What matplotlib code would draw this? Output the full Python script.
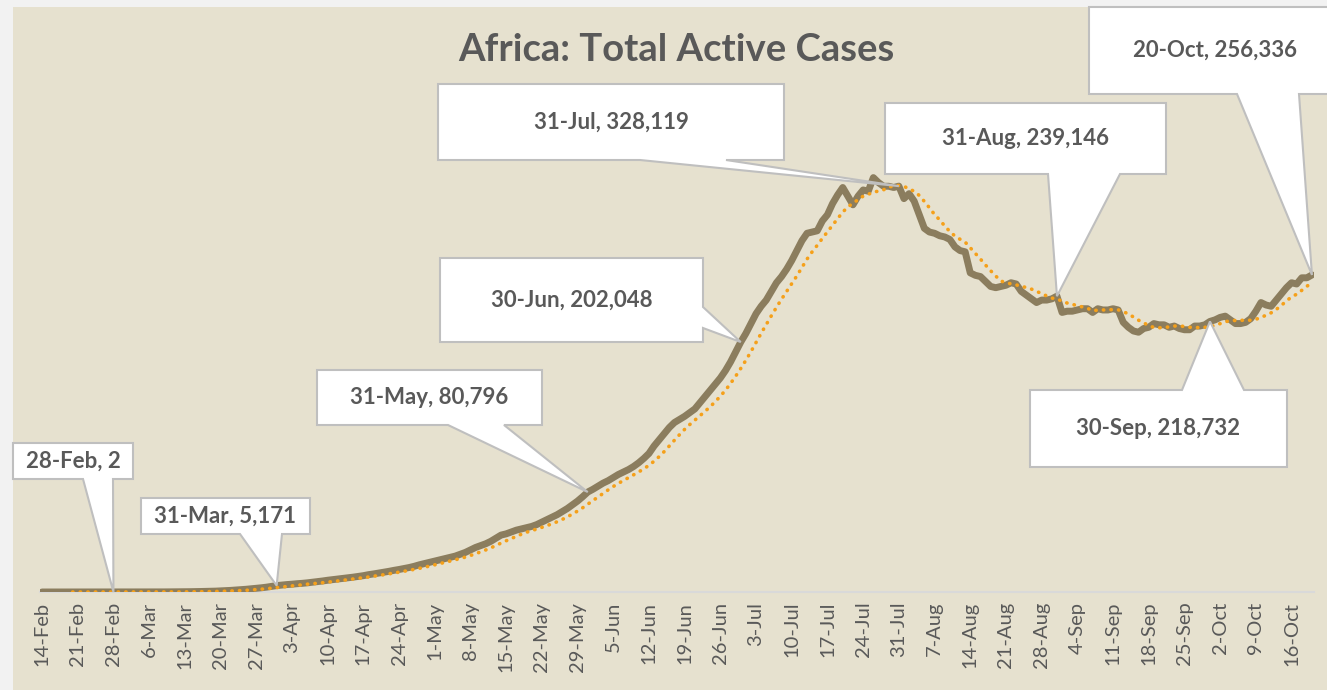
import numpy as np
import pandas as pd
import matplotlib
matplotlib.use("Agg")
import matplotlib.pyplot as plt
from matplotlib.patches import Polygon, Rectangle

plt.rcParams['font.family'] = ['Lato', 'DejaVu Sans']

# active cases, thousands, one value per day from 14-Feb to 20-Oct
feb = [0.001] * 14 + [0.002, 0.002]
mar = [0.003, 0.004, 0.006, 0.010, 0.020, 0.030, 0.040, 0.060, 0.080, 0.100,
       0.130, 0.160, 0.200, 0.250, 0.300, 0.400, 0.500, 0.600, 0.700, 0.900,
       1.10, 1.30, 1.60, 1.90, 2.20, 2.60, 3.00, 3.40, 3.90, 4.50, 5.171]
apr = [5.6, 6.0, 6.3, 6.7, 7.0, 7.4, 7.9, 8.4, 8.9, 9.5,
       10.0, 10.5, 11.0, 11.5, 12.0, 12.6, 13.2, 14.0, 14.6, 15.3,
       16.0, 16.7, 17.5, 18.2, 19.0, 19.8, 20.8, 22.0, 23.0, 24.0]
may = [25.0, 26.0, 27.0, 28.0, 29.0, 30.5, 32.0, 34.0, 36.0, 37.5,
       39.0, 41.0, 43.5, 46.0, 47.0, 48.5, 50.0, 51.0, 52.0, 53.0,
       54.5, 56.5, 58.5, 60.5, 62.5, 65.0, 67.5, 70.5, 73.5, 77.0, 80.796]
jun = [83.0, 85.5, 88.0, 90.0, 92.5, 95.0, 97.0, 99.0, 101.5, 104.5,
       108.0, 112.0, 118.0, 123.0, 128.0, 133.0, 137.0, 139.5, 142.0, 145.0,
       148.0, 153.0, 158.0, 163.0, 168.0, 173.0, 179.0, 186.0, 194.0, 202.048]
jul = [209.0, 217.0, 225.0, 231.0, 236.0, 243.0, 250.0, 255.0, 261.0, 268.0,
       276.0, 284.0, 290.0, 291.0, 292.0, 300.0, 305.0, 314.0, 321.0, 327.0,
       320.0, 313.0, 320.0, 325.0, 324.0, 335.0, 331.0, 328.0, 328.0, 327.0, 328.119]
aug = [318, 322, 316, 305, 294, 291, 290, 288, 287, 285,
       279, 276, 275, 258, 256, 255, 251, 247, 246, 247,
       248, 250, 249, 243, 240, 237, 234, 236, 236, 237, 239.146]
sep = [226, 227, 227, 228, 229, 229, 226, 229, 228, 228,
       229, 228, 218, 214, 211, 210, 213, 214, 217, 216,
       216, 214, 215, 213, 212, 212, 215, 215, 216, 218.732]
octo = [220, 222, 223, 220, 217, 217, 218, 221, 227, 234,
        232, 231, 236, 241, 246, 250, 249, 254, 254, 256.336]

dates = pd.date_range("2020-02-14", "2020-10-20", freq="D")
active = pd.Series(np.array(feb + mar + apr + may + jun + jul + aug + sep + octo) * 1000, index=dates)
trend = active.rolling(7).mean()

# callouts: date, label
callouts = [
    ("2020-02-28", "28-Feb, 2"),
    ("2020-03-31", "31-Mar, 5,171"),
    ("2020-05-31", "31-May, 80,796"),
    ("2020-06-30", "30-Jun, 202,048"),
    ("2020-07-31", "31-Jul, 328,119"),
    ("2020-08-31", "31-Aug, 239,146"),
    ("2020-09-30", "30-Sep, 218,732"),
    ("2020-10-20", "20-Oct, 256,336"),
]
# box (left, top, right, bottom) in pixels, side of the pointer and its base
boxes = [
    ((13, 443, 133, 479), "bottom", (83, 113)),
    ((141, 498, 310, 534), "bottom", (240, 282)),
    ((317, 370, 542, 425), "bottom", (448, 504)),
    ((440, 258, 703, 342), "right", (307, 328)),
    ((438, 84, 784, 160), "bottom", (640, 726)),
    ((885, 103, 1166, 174), "bottom", (1048, 1120)),
    ((1030, 390, 1287, 467), "top", (1182, 1244)),
    ((1089, 7, 1340, 94), "bottom", (1237, 1299)),
]
# x centre of the text where the box runs off the picture
text_x = {7: 1215}

W, H = 1327, 690
fig = plt.figure(figsize=(W / 100, H / 100), dpi=100, facecolor="#F2F2F2")
fig.patches.append(Rectangle((13 / W, 0), 1, 1 - 7 / H, transform=fig.transFigure,
                             facecolor="#E6E1CF", edgecolor="none", zorder=-1))

ax = fig.add_axes([40 / W, (H - 592) / H, (1314 - 40) / W, 494.8 / H])
ax.set_zorder(1)
ax.set_facecolor("none")
x = np.arange(len(active))
ax.plot(x, active.values, color="#8B7D5E", lw=5, solid_capstyle="round",
        solid_joinstyle="round", zorder=3)
ax.plot(x, trend.values, color="#F5A01A", lw=2.6, linestyle=(0, (0.1, 2.0)),
        dash_capstyle="round", zorder=4)
ax.set_xlim(-0.4, len(active) - 0.6)
ax.set_ylim(0, 400000)
for s in ["top", "right", "left"]:
    ax.spines[s].set_visible(False)
ax.spines["bottom"].set_color("#D9D9D9")
ax.spines["bottom"].set_linewidth(1.5)
ax.spines["bottom"].set_zorder(1)
ax.set_yticks([])
ticks = x[::7]
ax.set_xticks(ticks)
ax.set_xticklabels([f"{d.day}-{d:%b}" for d in dates[::7]], rotation=90,
                   fontsize=14.5, color="#595959", va="top")
ax.tick_params(axis="x", length=0, pad=7)

fig.text(676 / W, 1 - 50 / H, "Africa: Total Active Cases", ha="center", va="center",
         fontsize=27.5, fontweight="bold", color="#595959", zorder=6)

inv = fig.transFigure.inverted()


def px(a, b):
    return (a / W, 1 - b / H)


for k, ((day, label), ((L, T, R, B), side, (b1, b2))) in enumerate(zip(callouts, boxes)):
    i = dates.get_loc(pd.Timestamp(day))
    tip = tuple(inv.transform(ax.transData.transform((i, active.iloc[i]))))
    if side == "bottom":
        pts = [px(L, T), px(R, T), px(R, B), px(b2, B), tip, px(b1, B), px(L, B)]
    elif side == "top":
        pts = [px(L, T), px(b1, T), tip, px(b2, T), px(R, T), px(R, B), px(L, B)]
    else:
        pts = [px(L, T), px(R, T), px(R, b1), tip, px(R, b2), px(R, B), px(L, B)]
    fig.patches.append(Polygon(pts, closed=True, transform=fig.transFigure,
                               facecolor="white", edgecolor="#BFBFBF", lw=1.5, zorder=5))
    cx = text_x.get(k, (L + R) / 2)
    fig.text(cx / W, 1 - (T + B) / 2 / H, label, ha="center", va="center",
             fontsize=16, fontweight="bold", color="#595959", zorder=6)

fig.savefig("out.png", dpi=100, facecolor=fig.get_facecolor())
